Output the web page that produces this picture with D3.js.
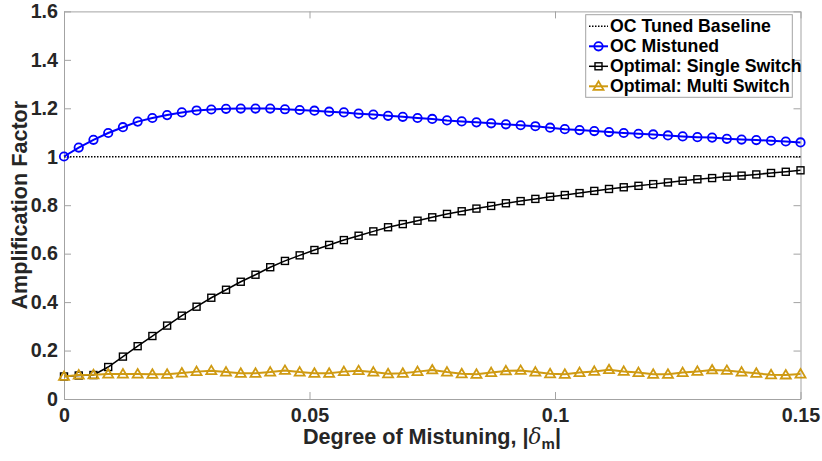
<!DOCTYPE html>
<html><head><meta charset="utf-8">
<script src="https://cdn.jsdelivr.net/npm/d3@7"></script>
<style>body{margin:0;background:#fff}svg{display:block;font-family:"Liberation Sans",Arial,sans-serif}</style>
</head><body><svg id="c" width="822" height="461"></svg>
<script>
// x: degree of mistuning, 51 points from 0 to 0.15
const xValues = d3.range(51).map(i => +(i * 0.003).toFixed(3));
const baseline = [1, 1];
const ocMistuned = [1.001,1.038,1.070,1.098,1.122,1.145,1.160,1.172,1.183,1.191,1.195,1.198,1.199,1.199,1.199,
  1.196,1.193,1.190,1.186,1.183,1.178,1.174,1.169,1.165,1.160,1.156,1.150,1.146,1.142,1.138,1.134,1.130,1.126,1.120,
  1.114,1.110,1.106,1.102,1.098,1.095,1.092,1.088,1.084,1.081,1.079,1.074,1.071,1.069,1.066,1.063,1.059];
const singleSwitch = [0.093,0.097,0.099,0.132,0.175,0.218,0.260,0.303,0.344,0.381,0.418,0.451,0.484,0.513,
  0.544,0.570,0.593,0.615,0.636,0.656,0.674,0.692,0.709,0.722,0.736,0.750,0.764,0.775,0.786,0.797,0.808,0.817,0.826,0.835,
  0.842,0.850,0.859,0.867,0.874,0.880,0.887,0.894,0.901,0.907,0.912,0.918,0.922,0.927,0.933,0.938,0.944];
const multiSwitch = [0.093,0.099,0.100,0.103,0.103,0.103,0.102,0.102,0.107,0.113,0.117,0.111,0.106,0.106,0.111,0.118,
  0.111,0.106,0.106,0.113,0.117,0.111,0.104,0.106,0.113,0.120,0.111,0.104,0.102,0.109,0.116,0.118,0.111,0.104,0.102,
  0.109,0.114,0.121,0.114,0.109,0.102,0.102,0.109,0.114,0.120,0.118,0.111,0.106,0.100,0.099,0.103];
const xTicks = [0, 0.05, 0.1, 0.15];
const xTickLabels = ["0", "0.05", "0.1", "0.15"];
const yTicks = [0, 0.2, 0.4, 0.6, 0.8, 1, 1.2, 1.4, 1.6];
const yTickLabels = ["0", "0.2", "0.4", "0.6", "0.8", "1", "1.2", "1.4", "1.6"];
const legendLabels = ["OC Tuned Baseline", "OC Mistuned", "Optimal: Single Switch", "Optimal: Multi Switch"];

const L = 64, R = 800.5, T = 11.4, B = 399;
const axisCol = "#a3a3a3", textCol = "#262626";
const blue = "#0000ff", black = "#000000", gold = "#cf9a12";
const svg = d3.select("#c");
const x = d3.scaleLinear().domain([0, 0.15]).range([L, R]);
const y = d3.scaleLinear().domain([0, 1.6]).range([B, T]);

// axes (MATLAB box style with inward ticks)
const tl = 7;
const gx = svg.append("g").attr("transform", `translate(0,${B})`)
  .call(d3.axisBottom(x).tickValues(xTicks).tickFormat((d,i)=>xTickLabels[i]).tickSizeInner(-tl).tickSizeOuter(0).tickPadding(9));
const gxt = svg.append("g").attr("transform", `translate(0,${T})`)
  .call(d3.axisTop(x).tickValues(xTicks).tickFormat("").tickSizeInner(-tl).tickSizeOuter(0));
const gy = svg.append("g").attr("transform", `translate(${L},0)`)
  .call(d3.axisLeft(y).tickValues(yTicks).tickFormat((d,i)=>yTickLabels[i]).tickSizeInner(-tl).tickSizeOuter(0).tickPadding(6));
const gyr = svg.append("g").attr("transform", `translate(${R},0)`)
  .call(d3.axisRight(y).tickValues(yTicks).tickFormat("").tickSizeInner(-tl).tickSizeOuter(0));
[gx, gxt, gy, gyr].forEach(g => {
  g.selectAll("path,line").attr("stroke", axisCol).attr("stroke-width", 1);
  g.selectAll("text").attr("fill", textCol).attr("font-size", 19.7).attr("font-weight", "bold")
    .attr("font-family", '"Liberation Sans",Arial,sans-serif');
});
gx.selectAll("text").attr("dy", "0.71em");

// series
const series = [
  {vals: ocMistuned, color: blue, width: 2, marker: "circle"},
  {vals: singleSwitch, color: black, width: 1.5, marker: "square"},
  {vals: multiSwitch, color: gold, width: 2, marker: "triangle"}
];
const line = d3.line().x(d => x(d[0])).y(d => y(d[1]));
// baseline
svg.append("path").datum(xTicks.filter((d,i)=>i===0||i===3).map((d,i)=>[d, baseline[i]]))
  .attr("d", line).attr("fill", "none").attr("stroke", black).attr("stroke-width", 1.5).attr("stroke-dasharray", "1.5,1.5");

function drawMarker(g, type, cx, cy, color) {
  if (type === "circle") g.append("circle").attr("cx", cx).attr("cy", cy).attr("r", 4.2)
    .attr("fill", "none").attr("stroke", color).attr("stroke-width", 1.8);
  else if (type === "square") g.append("rect").attr("x", cx-3.5).attr("y", cy-3.5).attr("width", 7).attr("height", 7)
    .attr("fill", "none").attr("stroke", color).attr("stroke-width", 1.4);
  else g.append("path").attr("d", `M${cx},${cy-5} L${cx+5},${cy+3.5} L${cx-5},${cy+3.5} Z`)
    .attr("fill", "none").attr("stroke", color).attr("stroke-width", 1.8).attr("stroke-linejoin", "miter");
}
series.forEach(s => {
  const pts = xValues.map((xv, i) => [xv, s.vals[i]]);
  svg.append("path").datum(pts).attr("d", line).attr("fill", "none").attr("stroke", s.color).attr("stroke-width", s.width);
  const g = svg.append("g");
  pts.forEach(p => drawMarker(g, s.marker, x(p[0]), y(p[1]), s.color));
});

// axis titles
svg.append("text").attr("x", 432).attr("y", 444).attr("text-anchor", "middle").attr("fill", textCol)
  .attr("font-size", 21.6).attr("font-weight", "bold")
  .call(t => {
    t.append("tspan").text("Degree of Mistuning, |");
    t.append("tspan").attr("font-style", "italic").attr("font-weight", "normal").attr("font-family", '"DejaVu Serif",serif').text("δ");
    t.append("tspan").attr("font-size", 15).attr("dy", 5).text("m");
    t.append("tspan").attr("dy", -5).text("|");
  });
svg.append("text").attr("transform", `translate(27,${(T+B)/2}) rotate(-90)`).attr("text-anchor", "middle")
  .attr("fill", textCol).attr("font-size", 21.6).attr("font-weight", "bold").text("Amplification Factor");

// legend
const lg = svg.append("g");
lg.append("rect").attr("x", 585.7).attr("y", 14.7).attr("width", 206.6).attr("height", 82.6)
  .attr("fill", "#fff").attr("stroke", axisCol).attr("stroke-width", 1);
const legendStyles = [
  {color: black, width: 1.5, dash: "1.5,1.5", marker: null},
  {color: blue, width: 2, dash: null, marker: "circle"},
  {color: black, width: 1.5, dash: null, marker: "square"},
  {color: gold, width: 2, dash: null, marker: "triangle"}
];
legendLabels.forEach((lab, i) => {
  const cy = 26.3 + i * 20, st = legendStyles[i];
  lg.append("line").attr("x1", 589).attr("x2", 608).attr("y1", cy).attr("y2", cy)
    .attr("stroke", st.color).attr("stroke-width", st.width).attr("stroke-dasharray", st.dash);
  if (st.marker) drawMarker(lg, st.marker, 598.5, cy, st.color);
  lg.append("text").attr("x", 610).attr("y", cy).attr("dy", "0.35em").attr("fill", "#000")
    .attr("font-size", 17.7).attr("font-weight", "bold").text(lab);
});
</script></body></html>
